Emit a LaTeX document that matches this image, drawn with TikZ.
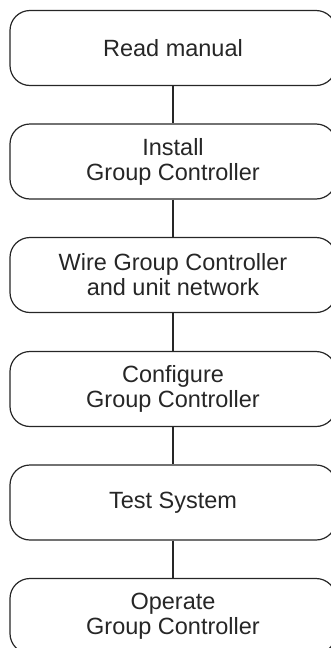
\documentclass[tikz,border=0pt]{standalone}
\usepackage{fontspec}
\setmainfont{Liberation Sans}
\definecolor{ink}{HTML}{262626}
\begin{document}
\begin{tikzpicture}[x=1pt,y=1pt,
  stepbox/.style={draw=ink, line width=1.2pt, rounded corners=20pt,
    minimum width=326pt, minimum height=75pt, align=center, inner sep=0pt,
    text=ink, font=\fontsize{23.5}{25}\selectfont},
  link/.style={draw=ink, line width=1.2pt}]
\useasboundingbox (0,0) rectangle (331,-648);
\node[stepbox] (a) at (173,-48) {Read manual};
\node[stepbox] (b) at (173,-161.5) {Install\\Group Controller};
\node[stepbox] (c) at (173,-275) {Wire Group Controller\\and unit network};
\node[stepbox] (d) at (173,-389) {Configure\\Group Controller};
\node[stepbox] (e) at (173,-502.5) {Test System};
\node[stepbox] (f) at (173,-616) {Operate\\Group Controller};
\draw[link] (a) -- (b);
\draw[link] (b) -- (c);
\draw[link] (c) -- (d);
\draw[link] (d) -- (e);
\draw[link] (e) -- (f);
\end{tikzpicture}
\end{document}
